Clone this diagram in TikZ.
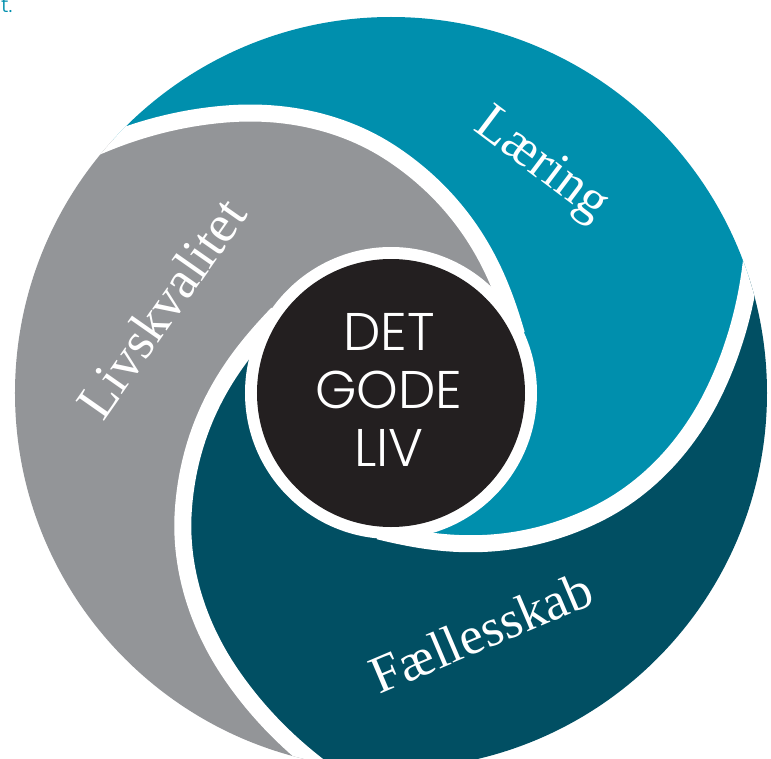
\documentclass[tikz,border=0pt]{standalone}
\usepackage{fontspec}
\IfFontExistsTF{Poppins Light}{\newfontfamily\gfont{Poppins Light}}{\newfontfamily\gfont{Poppins}}
\newfontfamily\lfont{Liberation Serif}
\definecolor{segteal}{RGB}{0,143,173}
\definecolor{seggray}{RGB}{147,149,152}
\definecolor{segdark}{RGB}{1,79,99}
\definecolor{coreblack}{RGB}{35,31,32}
\tikzset{
  seglabel/.style={text=white, font=\lfont\fontsize{53}{53}\selectfont, inner sep=0pt},
  gapline/.style={draw=white, line width=17pt},
  corelabel/.style={text=white, font=\gfont\fontsize{53}{58}\selectfont, align=center, inner sep=0pt},
}
\begin{document}
\begin{tikzpicture}[x=1pt,y=1pt,
  declare function={spr(\t)=240+2.75*(\t+30)+0.0183*((\t<-30)*(\t+30))*((\t<-30)*(\t+30))+0.015*((\t>0)*\t)*((\t>0)*\t);}]
\useasboundingbox (-391,-365) rectangle (380,393);
\begin{scope}
  \clip (0,0) circle[radius=376];
  \foreach \rot/\col in {0/segteal,120/seggray,240/segdark}{
    \fill[\col, rotate=\rot] (0,0)
      -- plot[domain=-95:28, samples=100, variable=\t] (\t:{spr(\t)})
      -- (28:440) arc[start angle=28, end angle=148, radius=440]
      -- plot[domain=148:25, samples=100, variable=\t] (\t:{spr(\t-120)})
      -- cycle;
  }
  \foreach \rot in {0,120,240}{
    \draw[gapline, rotate=\rot] plot[domain=-95:30, samples=100, variable=\t] (\t:{spr(\t)});
  }
\end{scope}
\fill[white] (0,0) circle[radius=146];
\fill[coreblack] (0,0) circle[radius=134];
\node[seglabel, rotate=-37] (laering) at (150,227) {Læring};
\node[seglabel, rotate=55] (livs) at (-230,85) {Livskvalitet};
\node[seglabel, rotate=23] (faelles) at (90,-239) {Fællesskab};
\node[corelabel] (core) at (-2,3) {DET\\GODE\\LIV};
\node[text=segteal, font=\gfont\fontsize{21}{21}\selectfont, anchor=base west, inner sep=0pt] (tail) at (-390,380) {t.};
\end{tikzpicture}
\end{document}
